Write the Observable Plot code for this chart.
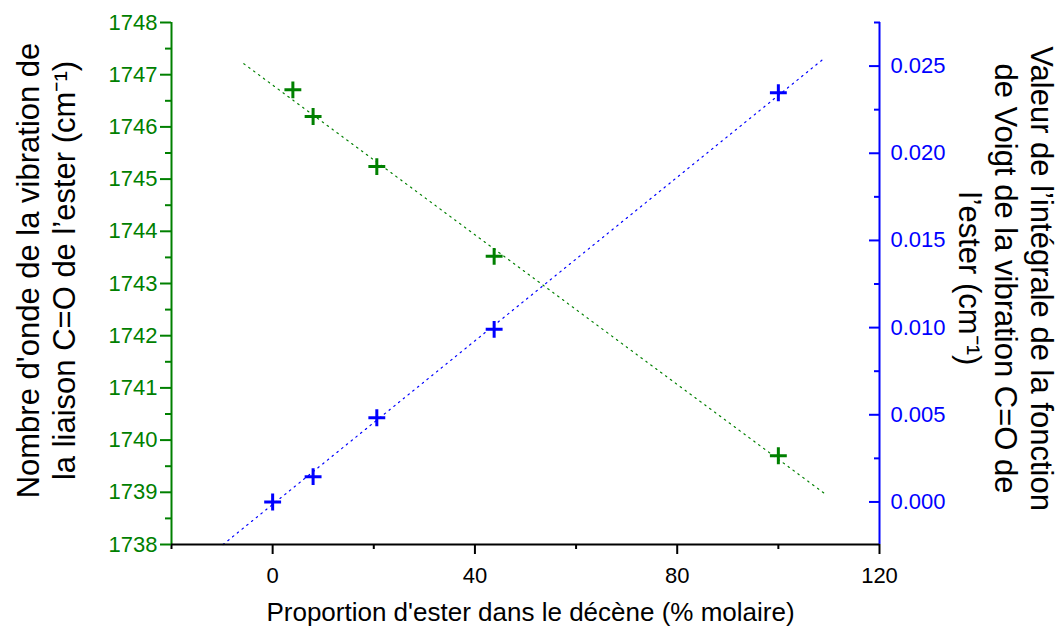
<!DOCTYPE html>
<html><head><meta charset="utf-8">
<script src="https://cdn.jsdelivr.net/npm/d3@7"></script>
<script src="https://cdn.jsdelivr.net/npm/@observablehq/plot@0.6"></script>
<style>html,body{margin:0;padding:0;background:#fff;}</style>
</head><body><div id="chart"></div>
<script>
// Domains
const xDomain = [-20, 120];
const leftDomain = [1738, 1748];
const rightDomain = [-0.00244, 0.0275];

// Green series: wavenumber (left axis)
const greenX = [4, 8, 20.6, 43.8, 100];
const greenWavenumber = [1746.71, 1746.2, 1745.24, 1743.52, 1739.7];
// Blue series: Voigt integral (right axis)
const blueX = [0, 8, 20.6, 43.8, 100];
const blueIntegral = [0.0, 0.00145, 0.00483, 0.0099, 0.02347];

// Fit line end points (dotted)
const greenFitX = [-5.7, 109.1];
const greenFitY = [1747.21, 1738.98];
const blueFitX = [-9.8, 109.3];
const blueFitY = [-0.00244, 0.0255];

// Ticks
const xMajorTicks = [0, 40, 80, 120];
const xMinorTicks = [-20, 20, 60, 100];
const leftMajorTicks = [1738, 1739, 1740, 1741, 1742, 1743, 1744, 1745, 1746, 1747, 1748];
const leftMinorTicks = [1738.5, 1739.5, 1740.5, 1741.5, 1742.5, 1743.5, 1744.5, 1745.5, 1746.5, 1747.5];
const rightMajorTicks = [0, 0.005, 0.010, 0.015, 0.020, 0.025];
const rightMinorTicks = [0.0025, 0.0075, 0.0125, 0.0175, 0.0225, 0.0275];

// Labels
const xTitle = "Proportion d'ester dans le décène (% molaire)";
const leftTitle = "Nombre d'onde de la vibration de\nla liaison C=O de l’ester (cm⁻¹)";
const rightTitle = "Valeur de l’intégrale de la fonction\nde Voigt de la vibration C=O de\nl’ester (cm⁻¹)";

const GREEN = "#008000";
const BLUE = "#0000ff";

const toLeft = v => leftDomain[0] + (v - rightDomain[0]) / (rightDomain[1] - rightDomain[0]) * (leftDomain[1] - leftDomain[0]);
const fromLeft = y => rightDomain[0] + (y - leftDomain[0]) / (leftDomain[1] - leftDomain[0]) * (rightDomain[1] - rightDomain[0]);

const greenRows = greenX.map((x, i) => ({x, y: greenWavenumber[i]}));
const blueRows = blueX.map((x, i) => ({x, y: toLeft(blueIntegral[i])}));
const greenFit = greenFitX.map((x, i) => ({x, y: greenFitY[i]}));
const blueFit = blueFitX.map((x, i) => ({x, y: toLeft(blueFitY[i])}));

const chart = Plot.plot({
  width: 1061,
  height: 627,
  marginLeft: 171,
  marginRight: 182,
  marginTop: 22,
  marginBottom: 83,
  style: {fontFamily: "'Liberation Sans', Arial, sans-serif", fontSize: "22px", background: "#fff"},
  x: {domain: xDomain},
  y: {domain: leftDomain},
  marks: [
    // fit lines
    Plot.line(greenFit, {x: "x", y: "y", stroke: GREEN, strokeWidth: 1.2, strokeDasharray: "1.5,4.6"}),
    Plot.line(blueFit, {x: "x", y: "y", stroke: BLUE, strokeWidth: 1.2, strokeDasharray: "1.5,4.6"}),
    // axis lines
    Plot.ruleX([xDomain[0]], {stroke: GREEN, strokeWidth: 2}),
    Plot.ruleX([xDomain[1]], {stroke: BLUE, strokeWidth: 2}),
    Plot.ruleY([leftDomain[0]], {stroke: "black", strokeWidth: 2}),
    // x axis
    Plot.axisX(xMajorTicks, {tickSize: 10, tickPadding: 13, strokeWidth: 2, fontSize: 22, tickFormat: d => String(d), label: null}),
    Plot.axisX(xMinorTicks, {tickSize: 5, strokeWidth: 2, fill: "none", label: null}),
    // left axis
    Plot.axisY(leftMajorTicks, {anchor: "left", tickSize: 11, tickPadding: 3, stroke: GREEN, fill: GREEN, strokeWidth: 2, fontSize: 22, tickFormat: d => String(d), label: null}),
    Plot.axisY(leftMinorTicks, {anchor: "left", tickSize: 6, stroke: GREEN, fill: "none", strokeWidth: 2, label: null}),
    // right axis (ticks point inward)
    Plot.axisY(rightMajorTicks.map(toLeft), {anchor: "right", tickSize: 11, dx: -11, stroke: BLUE, fill: "none", strokeWidth: 2, label: null}),
    Plot.axisY(rightMinorTicks.map(toLeft), {anchor: "right", tickSize: 6, dx: -6, stroke: BLUE, fill: "none", strokeWidth: 2, label: null}),
    Plot.axisY(rightMajorTicks.map(toLeft), {anchor: "right", tickSize: 0, tickPadding: 11, fill: BLUE, fontSize: 22, tickFormat: d => Math.abs(fromLeft(d)).toFixed(3), label: null}),
    // points
    Plot.dot(greenRows, {x: "x", y: "y", symbol: "plus", r: 5.5, stroke: GREEN, strokeWidth: 3}),
    Plot.dot(blueRows, {x: "x", y: "y", symbol: "plus", r: 5.5, stroke: BLUE, strokeWidth: 3}),
    // titles
    Plot.text([xTitle], {frameAnchor: "bottom", textAnchor: "middle", lineAnchor: "top", fontSize: 26, dx: 5, dy: 58, fill: "black"}),
    Plot.text([leftTitle], {frameAnchor: "left", rotate: -90, textAnchor: "middle", lineAnchor: "middle", lineHeight: 1.16, fontSize: 31, dx: -126, dy: -13, fill: "black"}),
    Plot.text([rightTitle], {frameAnchor: "right", rotate: 90, textAnchor: "middle", lineAnchor: "middle", lineHeight: 1.15, fontSize: 31, dx: 127, dy: -5, fill: "black"})
  ]
});
document.getElementById("chart").appendChild(chart);
</script>
</body></html>
